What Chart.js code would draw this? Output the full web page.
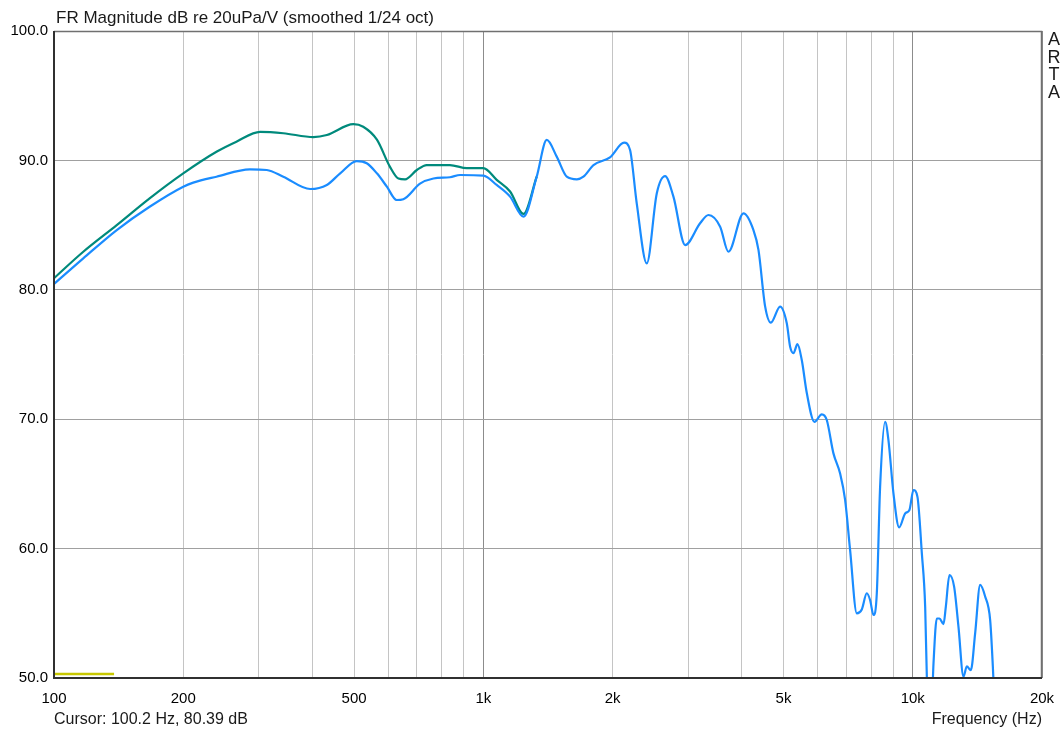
<!DOCTYPE html>
<html>
<head>
<meta charset="utf-8">
<title>FR Magnitude</title>
<script src="https://cdn.jsdelivr.net/npm/chart.js@4/dist/chart.umd.min.js"></script>
<style>
  html, body { margin: 0; padding: 0; background: #ffffff; }
  #wrap { position: relative; width: 1063px; height: 734px; }
</style>
</head>
<body>
<div id="wrap"><canvas id="fr"></canvas></div>
<script>
// Measured response, first trace (teal) – frequency in Hz, level in dB
const freqTeal = [100, 117, 140, 167, 200, 239, 266, 302, 342, 402, 432, 498, 525, 565, 606, 634, 657, 700, 738, 836, 915, 1000, 1074, 1154, 1240, 1331];
const splTeal  = [80.9, 82.94, 85.0, 87.07, 89.0, 90.67, 91.45, 92.2, 92.1, 91.8, 91.96, 92.8, 92.6, 91.6, 89.5, 88.6, 88.54, 89.26, 89.64, 89.64, 89.4, 89.4, 88.5, 87.6, 85.86, 88.74];

// Measured response, second trace (blue)
const freqBlue = [100, 117, 140, 167, 200, 211, 239, 286, 313, 342, 395, 432, 464, 507, 535, 565, 596, 628, 651, 712, 765, 836, 883, 1000, 1074, 1154, 1240,
  1331, 1405, 1482, 1564, 1651, 1710, 1805, 1972, 2127, 2196, 2276, 2402, 2534, 2650, 2771, 2951, 3197, 3344, 3560, 3722, 4034, 4256, 4372, 4532, 4672,
  4910, 5089, 5181, 5275, 5389, 5515, 5667, 5902, 6140, 6306, 6536, 6774, 6958, 7146, 7408, 7609, 7816, 7955, 8100, 8247, 8395, 8624, 8778, 9017, 9296,
  9602, 9824, 10037, 10256, 10500, 10689, 10785, 11000, 11178, 11378, 11540, 11793, 11940, 12175, 12484, 12778, 13127, 13364, 13654, 13974, 14355, 14744,
  15146, 15365, 15600];
const splBlue  = [80.45, 82.43, 84.62, 86.42, 87.97, 88.28, 88.74, 89.31, 89.26, 88.74, 87.79, 88.1, 89.0, 89.95, 89.78, 89.0, 87.97, 86.94, 87.0, 88.2, 88.6, 88.7, 88.87, 88.82, 88.1, 87.2, 85.65,
  88.74, 91.58, 90.29, 88.74, 88.54, 88.74, 89.64, 90.24, 91.37, 90.8, 86.68, 82.04, 87.45, 88.79, 87.2, 83.46, 85.14, 85.78, 84.88, 82.94, 85.91, 84.62, 83.08, 78.7, 77.46,
  78.7, 77.41, 75.6, 75.1, 75.8, 74.57, 72.0, 69.8, 70.38, 69.94, 67.36, 65.8, 63.76, 59.9, 55.0, 55.3, 56.55, 56.03, 54.87, 56.55, 64.8, 69.8, 68.39, 64.27, 61.64,
  62.72, 62.98, 64.53, 64.0, 59.63, 55.5, 50.1, 45.5, 51.14, 54.6, 54.6, 54.17, 55.5, 57.96, 57.06, 53.97, 50.1, 50.9, 50.6, 53.45, 57.19, 56.3,
  54.48, 50.9, 46.0];

// Third trace, visible only as a short segment just above the floor
const freqYellow = [100, 138];
const splYellow  = [50.31, 50.31];

// Axis ticks
const xTickValues = [100, 200, 300, 400, 500, 600, 700, 800, 900, 1000, 2000, 3000, 4000, 5000, 6000, 7000, 8000, 9000, 10000, 20000];
const xTickLabels = ['100', '200', '', '', '500', '', '', '', '', '1k', '2k', '', '', '5k', '', '', '', '', '10k', '20k'];
const xMajorTicks = [100, 1000, 10000, 20000];
const yTickValues = [50, 60, 70, 80, 90, 100];

const FONT = '"Liberation Sans", Arial, sans-serif';

function toPoints(xs, ys) {
  return xs.map((x, i) => ({ x: x, y: ys[i] }));
}

// Frame around the plot and the surrounding captions
const decorations = {
  id: 'decorations',
  afterDatasetsDraw(chart) {
    const { ctx, chartArea: a } = chart;
    ctx.save();
    ctx.strokeStyle = '#707070';
    ctx.lineWidth = 1.5;
    ctx.beginPath();
    ctx.moveTo(a.left, a.top + 0.5);
    ctx.lineTo(a.right - 0.5, a.top + 0.5);
    ctx.lineTo(a.right - 0.5, a.bottom);
    ctx.stroke();
    ctx.strokeStyle = '#303030';
    ctx.lineWidth = 2;
    ctx.beginPath();
    ctx.moveTo(a.left, a.top);
    ctx.lineTo(a.left, a.bottom);
    ctx.lineTo(a.right, a.bottom);
    ctx.stroke();
    ctx.restore();
  },
  afterDraw(chart) {
    const { ctx, chartArea: a } = chart;
    ctx.save();
    ctx.fillStyle = '#1a1a1a';
    ctx.textBaseline = 'middle';
    ctx.textAlign = 'left';
    ctx.font = '17px ' + FONT;
    ctx.fillText('FR Magnitude dB re 20uPa/V (smoothed 1/24 oct)', a.left + 2, 18);
    ctx.font = '16px ' + FONT;
    ctx.fillText('Cursor: 100.2 Hz, 80.39 dB', a.left, 720);
    ctx.textAlign = 'right';
    ctx.fillText('Frequency (Hz)', a.right, 720);
    ctx.textAlign = 'center';
    ctx.font = '18px ' + FONT;
    const letters = ['A', 'R', 'T', 'A'];
    letters.forEach((ch, i) => ctx.fillText(ch, 1054, 40 + i * 17.7));
    ctx.restore();
  }
};

new Chart(document.getElementById('fr'), {
  type: 'scatter',
  data: {
    datasets: [
      {
        label: 'Response B',
        data: toPoints(freqBlue, splBlue),
        showLine: true,
        borderColor: '#1a8cff',
        borderWidth: 2.2,
        pointRadius: 0,
        cubicInterpolationMode: 'monotone',
        order: 0
      },
      {
        label: 'Response A',
        data: toPoints(freqTeal, splTeal),
        showLine: true,
        borderColor: '#008a7c',
        borderWidth: 2.2,
        pointRadius: 0,
        cubicInterpolationMode: 'monotone',
        order: 1
      },
      {
        label: 'Response C',
        data: toPoints(freqYellow, splYellow),
        showLine: true,
        borderColor: '#c8c800',
        borderWidth: 2.5,
        pointRadius: 0,
        order: 2
      }
    ]
  },
  options: {
    responsive: true,
    maintainAspectRatio: false,
    animation: false,
    events: [],
    layout: { padding: { top: 31, right: 21, left: 0, bottom: 0 } },
    plugins: {
      legend: { display: false },
      title: { display: false },
      tooltip: { enabled: false }
    },
    scales: {
      x: {
        type: 'logarithmic',
        min: 100,
        max: 20000,
        afterBuildTicks(scale) {
          scale.ticks = xTickValues.map(v => ({ value: v }));
        },
        afterFit(scale) {
          scale.height = 56;
          // keep the plot edges fixed; end labels may overhang the frame
          scale.paddingLeft = 0;
          scale.paddingRight = 0;
        },
        ticks: {
          autoSkip: false,
          maxRotation: 0,
          padding: 12,
          color: '#000000',
          font: { family: FONT, size: 15 },
          callback(value) {
            const i = xTickValues.indexOf(value);
            return i >= 0 ? xTickLabels[i] : '';
          }
        },
        grid: {
          drawTicks: false,
          lineWidth: 1,
          color(ctx) {
            return ctx.tick && xMajorTicks.includes(ctx.tick.value) ? '#8c8c8c' : '#c4c4c4';
          }
        },
        border: { display: false }
      },
      y: {
        type: 'linear',
        min: 50,
        max: 100,
        afterBuildTicks(scale) {
          scale.ticks = yTickValues.map(v => ({ value: v }));
        },
        afterFit(scale) { scale.width = 54; },
        ticks: {
          padding: 6,
          color: '#000000',
          font: { family: FONT, size: 15 },
          callback(value) { return Number(value).toFixed(1); }
        },
        grid: {
          drawTicks: false,
          lineWidth: 1,
          color: '#a0a0a0'
        },
        border: { display: false }
      }
    }
  },
  plugins: [decorations]
});
</script>
</body>
</html>
